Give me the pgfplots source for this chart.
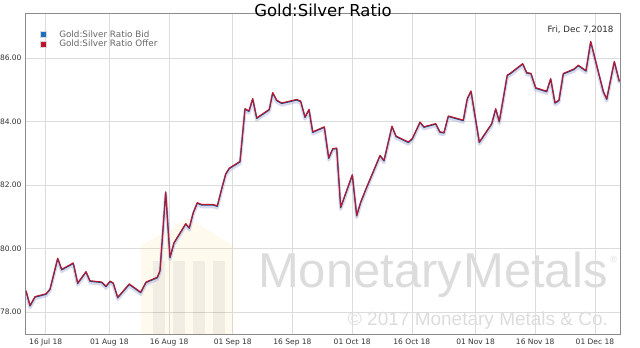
\documentclass[border=0pt]{standalone}
\usepackage{fontspec}
\setmainfont{DejaVu Sans}
\newfontfamily\wmfont{Liberation Sans}
\usepackage{pgfplots}
\usepackage{pgfplotstable}
\pgfplotsset{compat=1.18}
\definecolor{offerred}{HTML}{C0142A}
\definecolor{bidblue}{HTML}{1F6FC0}
\definecolor{shadowc}{HTML}{B8B8DE}
\definecolor{gridc}{HTML}{DCDCDC}
\definecolor{framec}{HTML}{8C8C8C}
\definecolor{wm}{HTML}{DCDCDC}
\pgfplotstableread{
d r
10.05 78.68
11.06 78.21
12.31 78.49
15.08 78.58
16.08 78.73
18.02 79.70
19.02 79.35
21.93 79.55
23.04 78.92
25.13 79.28
26.13 78.99
29.07 78.95
30.15 78.82
31.16 78.98
31.98 78.92
33.09 78.47
36.00 78.89
38.87 78.63
40.20 78.95
43.04 79.10
43.72 79.31
45.15 81.79
46.23 79.73
47.24 80.19
50.18 80.79
51.08 80.66
52.09 81.15
53.09 81.45
54.20 81.39
57.11 81.39
58.12 81.35
59.22 81.89
60.23 82.36
61.13 82.54
63.82 82.75
65.08 84.41
66.08 84.34
67.01 84.73
68.02 84.12
71.18 84.39
72.04 84.92
73.04 84.68
74.30 84.59
76.38 84.65
78.07 84.70
79.07 84.65
80.15 84.15
81.16 84.39
82.09 83.68
85.00 83.84
86.11 82.86
87.11 83.15
88.12 83.17
89.12 81.31
92.04 82.33
93.14 81.05
94.15 81.47
95.48 81.89
99.00 82.94
100.00 82.78
102.01 83.86
103.02 83.55
106.11 83.36
107.11 83.47
109.05 83.99
110.05 83.84
112.99 83.94
114.07 83.68
115.08 83.66
116.16 84.18
119.93 84.05
120.93 84.73
121.86 84.97
123.95 83.36
127.06 83.94
128.07 84.41
128.97 84.01
130.98 85.47
131.66 85.52
134.85 85.83
135.86 85.55
136.94 85.52
138.12 85.07
140.88 84.96
141.88 85.36
142.96 84.60
143.97 84.68
145.05 85.52
147.74 85.66
148.82 85.78
150.76 85.61
151.94 86.53
155.10 84.96
155.96 84.72
157.87 85.90
159.12 85.28
}\ratio
\begin{document}
\begin{tikzpicture}
\path[use as bounding box] (-26bp,-14bp) rectangle (614bp,334bp);
\begin{axis}[
  at={(0,0)}, anchor=south west,
  scale only axis, width=594bp, height=320bp,
  xmin=10.05, xmax=159.3, ymin=77.31, ymax=87.39,
  axis line style={framec, line width=1bp},
  grid=major, grid style={gridc, line width=0.6bp},
  major tick length=0pt,
  xtick={15,31,46,62,77,92,107,123,138,153},
  xticklabels={16 Jul 18,01 Aug 18,16 Aug 18,01 Sep 18,16 Sep 18,01 Oct 18,16 Oct 18,01 Nov 18,16 Nov 18,01 Dec 18},
  ytick={78,80,82,84,86},
  yticklabel style={xshift=-1bp, /pgf/number format/.cd, fixed, fixed zerofill, precision=2},
  /pgf/number format/assume math mode=true,
  ticklabel style={font=\fontsize{7.5bp}{9bp}\selectfont, text=black!80},
  xticklabel style={yshift=-1bp},
  title={Gold:Silver Ratio},
  title style={at={(0.5,1)}, anchor=base, yshift=-8bp, inner sep=0pt, font=\fontsize{16.5bp}{19bp}\selectfont},
  legend style={at={(0.018,0.962)}, anchor=north west, draw=none, fill=none,
    font=\fontsize{8.8bp}{10bp}\selectfont, text=black!60, row sep=-2.5bp,
    legend cell align=left},
  clip=true,
]
% watermark
\node[anchor=base west, text=wm, font=\wmfont\fontsize{49bp}{52bp}\selectfont, inner sep=0pt] at (axis cs:68.3,78.79) {Monetary\kern1bp Metals};
\node[anchor=base west, text=wm, font=\wmfont\fontsize{9bp}{10bp}\selectfont, inner sep=0pt] at (axis cs:156.8,79.57) {\textregistered};
\node[anchor=base west, text=wm, font=\wmfont\fontsize{19bp}{22bp}\selectfont, inner sep=0pt] at (axis cs:90.9,77.59) {\textcopyright{} 2017 Monetary Metals \& Co.};
\fill[yellow!40!orange, opacity=0.07] (axis cs:39,80.1) -- (axis cs:51,80.95) -- (axis cs:62,80.1) -- (axis cs:62,77.0) -- (axis cs:39,77.0) -- cycle;
\fill[black, opacity=0.05] (axis cs:42,79.6) rectangle (axis cs:45,77.0);
\fill[black, opacity=0.05] (axis cs:47,79.6) rectangle (axis cs:50,77.0);
\fill[black, opacity=0.05] (axis cs:52,79.6) rectangle (axis cs:55,77.0);
\fill[black, opacity=0.05] (axis cs:57,79.6) rectangle (axis cs:60,77.0);
% legend images
\addlegendimage{only marks, mark=square*, mark size=3.2bp, mark options={fill=bidblue, draw=black!15}}
\addlegendentry{\hspace*{11bp}Gold:Silver Ratio Bid}
\addlegendimage{only marks, mark=square*, mark size=3.2bp, mark options={fill=offerred, draw=black!15}}
\addlegendentry{\hspace*{11bp}Gold:Silver Ratio Offer}
% shadow
\addplot[shadowc, line width=3.2bp, opacity=0.55, line join=round, yshift=-2.2bp, forget plot] table[x=d,y=r]{\ratio};
\addplot[bidblue!70!black, line width=1.2bp, line join=round, yshift=-0.6bp, forget plot] table[x=d,y=r]{\ratio};
\addplot[offerred, line width=1bp, line join=round, forget plot] table[x=d,y=r]{\ratio};
\node[anchor=north east, font=\fontsize{8.7bp}{10bp}\selectfont, text=black!85] at (rel axis cs:0.995,0.975) {Fri, Dec 7,2018};
\end{axis}
\end{tikzpicture}
\end{document}
